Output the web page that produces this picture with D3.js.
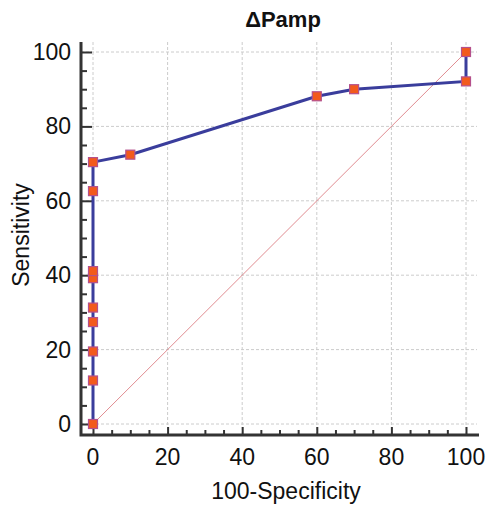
<!DOCTYPE html>
<html>
<head>
<meta charset="utf-8">
<script src="https://cdn.jsdelivr.net/npm/d3@7"></script>
<style>
  body { margin: 0; background: #fff; }
  svg { font-family: "Liberation Sans", Arial, sans-serif; }
</style>
</head>
<body>
<div id="chart"></div>
<script>
'use strict';

// ROC points
const fpr = [0, 0, 0, 0, 0, 0, 0, 0, 0, 10, 60, 70, 100, 100];
const sens = [0, 11.7, 19.5, 27.4, 31.3, 39.2, 41.1, 62.6, 70.4, 72.4, 88.1, 90.0, 92.1, 100];
const xTicks = [0, 20, 40, 60, 80, 100];
const yTicks = [0, 20, 40, 60, 80, 100];
const minorTicks = d3.range(0, 101, 5);
const title = "ΔPamp";

const width = 487, height = 506;
const svg = d3.select("#chart").append("svg")
    .attr("width", width)
    .attr("height", height);

// scales
const x = d3.scaleLinear().domain([0, 100]).range([93, 466]);
const y = d3.scaleLinear().domain([0, 100]).range([424, 52]);

// plot frame limits
const frameLeft = 81, frameRight = 479, frameTop = 42, frameBottom = 435;

// grid
svg.append("g").selectAll("line")
    .data(xTicks)
    .join("line")
    .attr("x1", d => x(d)).attr("x2", d => x(d))
    .attr("y1", frameTop).attr("y2", frameBottom)
    .attr("stroke", "#cccccc").attr("stroke-width", 1)
    .attr("stroke-dasharray", "3,2");
svg.append("g").selectAll("line")
    .data(yTicks)
    .join("line")
    .attr("x1", frameLeft).attr("x2", 477)
    .attr("y1", d => y(d)).attr("y2", d => y(d))
    .attr("stroke", "#cccccc").attr("stroke-width", 1)
    .attr("stroke-dasharray", "3,2");

// reference diagonal
svg.append("line")
    .attr("x1", x(0)).attr("y1", y(0))
    .attr("x2", x(100)).attr("y2", y(100))
    .attr("stroke", "#dc7f84").attr("stroke-width", 0.9);

// axes: ticks point into the plot
const xAxis = svg.append("g")
    .attr("transform", "translate(0," + frameBottom + ")")
    .call(d3.axisTop(x).tickValues(minorTicks).tickSize(5).tickFormat(""));
xAxis.selectAll(".tick line").attr("stroke", "#333").attr("stroke-width", 2)
    .attr("y2", d => d % 20 === 0 ? -8 : -5);
xAxis.select(".domain").remove();
svg.append("g").selectAll("text")
    .data(xTicks)
    .join("text")
    .attr("x", d => x(d))
    .attr("y", 465)
    .attr("text-anchor", "middle")
    .attr("font-size", 23)
    .attr("fill", "#111")
    .text(d => d);

const yAxis = svg.append("g")
    .attr("transform", "translate(" + frameLeft + ",0)")
    .call(d3.axisRight(y).tickValues(minorTicks).tickSize(5).tickFormat(""));
yAxis.selectAll(".tick line").attr("stroke", "#333").attr("stroke-width", 2)
    .attr("x2", d => d % 20 === 0 ? 11 : 6);
yAxis.select(".domain").remove();
svg.append("g").selectAll("text")
    .data(yTicks)
    .join("text")
    .attr("x", 71)
    .attr("y", d => y(d) + 8)
    .attr("text-anchor", "end")
    .attr("font-size", 23)
    .attr("fill", "#111")
    .text(d => d);

// axis lines
svg.append("path")
    .attr("d", "M" + frameLeft + "," + frameTop + "V" + frameBottom + "H" + frameRight)
    .attr("fill", "none")
    .attr("stroke", "#333")
    .attr("stroke-width", 3);

// ROC curve
const pts = fpr.map((v, i) => ({ x: v, y: sens[i] }));
svg.append("path")
    .datum(pts)
    .attr("d", d3.line().x(d => x(d.x)).y(d => y(d.y)))
    .attr("fill", "none")
    .attr("stroke", "#3a3d9c")
    .attr("stroke-width", 3);

svg.append("g").selectAll("rect")
    .data(pts)
    .join("rect")
    .attr("x", d => x(d.x) - 4.5)
    .attr("y", d => y(d.y) - 4.5)
    .attr("width", 9)
    .attr("height", 9)
    .attr("fill", "#f25a1c")
    .attr("stroke", "#b4508c")
    .attr("stroke-width", 1.2);

// labels
svg.append("text")
    .attr("x", 283).attr("y", 27)
    .attr("text-anchor", "middle")
    .attr("font-size", 22).attr("font-weight", "bold")
    .attr("fill", "#111")
    .text(title);

svg.append("text")
    .attr("x", 286).attr("y", 499)
    .attr("text-anchor", "middle")
    .attr("font-size", 23)
    .attr("fill", "#111")
    .text("100-Specificity");

svg.append("text")
    .attr("transform", "translate(29,235) rotate(-90)")
    .attr("text-anchor", "middle")
    .attr("font-size", 23)
    .attr("fill", "#111")
    .text("Sensitivity");
</script>
</body>
</html>
